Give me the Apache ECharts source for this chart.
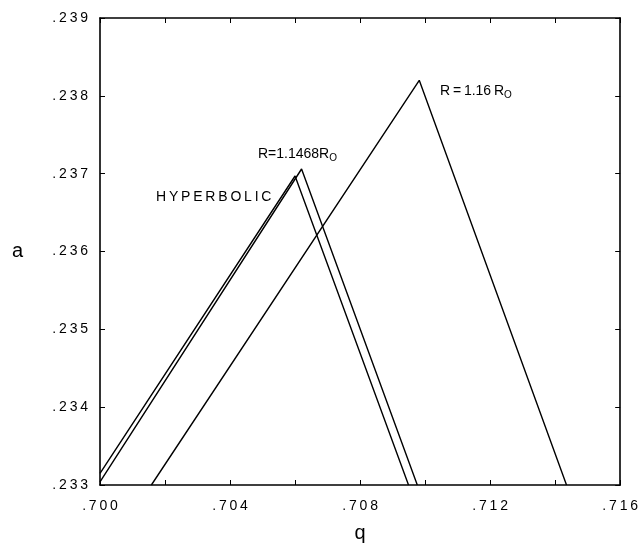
<!DOCTYPE html>
<html lang="en" style="height: 100%">
<head>
  <meta charset="utf-8">
</head>
<body style="height: 100%; margin: 0; background: #fff">
  <div id="container" style="width: 641px; height: 548px"></div>

<script type="text/javascript" src="https://cdn.jsdelivr.net/npm/echarts@6/dist/echarts.min.js"></script>

<script type="text/javascript">
// curves: [q, a]
var hyperbolic = [[0.7000, 0.23315], [0.7060, 0.23697], [0.70949, 0.2330]];
var r11468 = [[0.7000, 0.23304], [0.7062, 0.23706], [0.70976, 0.2330]];
var r116 = [[0.70158, 0.2330], [0.70982, 0.23820], [0.71435, 0.2330]];

var qMin = 0.700, qMax = 0.716, qStep = 0.002;
var aMin = 0.233, aMax = 0.239, aStep = 0.001;

var dom = document.getElementById('container');
var myChart = echarts.init(dom, null, { renderer: 'canvas' });

var font = 'Liberation Sans';
// old typewriter-ish lettering is widely spaced
var spaced = function (s) { return s.split('').join('\u2009'); };
var dropZero = function (v) { return spaced(v.toFixed(3).replace(/^0/, '')); };

var lineSeries = function (name, data) {
  return {
    name: name,
    type: 'line',
    data: data,
    symbol: 'none',
    lineStyle: { color: '#000', width: 1.4 },
    animation: false
  };
};

var option = {
  backgroundColor: '#fff',
  grid: { left: 100, right: 15, top: 18, bottom: 61 },
  xAxis: [
    {
      type: 'value', min: qMin, max: qMax, interval: qStep,
      name: 'q', nameLocation: 'middle', nameGap: 38,
      nameTextStyle: { fontFamily: font, fontSize: 20, color: '#000' },
      axisLine: { lineStyle: { color: '#000', width: 1.6 } },
      axisTick: { inside: true, length: 5, lineStyle: { color: '#000' } },
      axisLabel: {
        margin: 14, fontFamily: font, fontSize: 14, color: '#000',
        formatter: function (v) {
          return Math.round(v * 1000) % 4 === 0 ? dropZero(v) : '';
        }
      },
      splitLine: { show: false }
    },
    {
      type: 'value', position: 'top', min: qMin, max: qMax, interval: qStep,
      axisLine: { show: true, lineStyle: { color: '#000', width: 1.6 } },
      axisTick: { inside: true, length: 5, lineStyle: { color: '#000' } },
      axisLabel: { show: false },
      splitLine: { show: false }
    }
  ],
  yAxis: [
    {
      type: 'value', min: aMin, max: aMax, interval: aStep,
      name: 'a', nameLocation: 'middle', nameRotate: 0, nameGap: 77,
      nameTextStyle: { fontFamily: font, fontSize: 20, color: '#000' },
      axisLine: { show: true, lineStyle: { color: '#000', width: 1.6 } },
      axisTick: { show: true, inside: true, length: 5, lineStyle: { color: '#000' } },
      axisLabel: {
        margin: 12, fontFamily: font, fontSize: 14, color: '#000',
        formatter: dropZero
      },
      splitLine: { show: false }
    },
    {
      type: 'value', position: 'right', min: aMin, max: aMax, interval: aStep,
      axisLine: { show: true, lineStyle: { color: '#000', width: 1.6 } },
      axisTick: { show: true, inside: true, length: 5, lineStyle: { color: '#000' } },
      axisLabel: { show: false },
      splitLine: { show: false }
    }
  ],
  series: [
    lineSeries('HYPERBOLIC', hyperbolic),
    lineSeries('R=1.1468Ro', r11468),
    lineSeries('R=1.16Ro', r116)
  ],
  graphic: [
    {
      type: 'text', left: 156, top: 190,
      style: { text: spaced('HYPERBOLIC'), font: '14px "Liberation Sans"', fill: '#000' }
    },
    {
      type: 'text', left: 258, top: 147,
      style: {
        text: 'R=1.1468R{s|O}', font: '14px "Liberation Sans"', fill: '#000',
        rich: { s: { fontSize: 10, fontFamily: font, padding: [8, 0, 0, 0] } }
      }
    },
    {
      type: 'text', left: 440, top: 84,
      style: {
        text: 'R\u2009=\u20091.16\u2009R{s|O}', font: '14px "Liberation Sans"', fill: '#000',
        rich: { s: { fontSize: 10, fontFamily: font, padding: [8, 0, 0, 0] } }
      }
    }
  ]
};

myChart.setOption(option);
window.addEventListener('resize', myChart.resize);
</script>
</body>
</html>
